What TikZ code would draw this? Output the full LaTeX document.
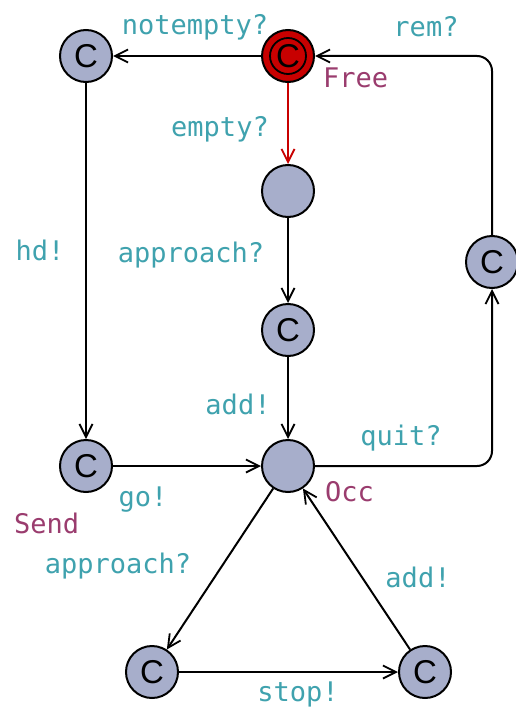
\documentclass[tikz,border=0pt]{standalone}
\usepackage{fontspec}
\setmonofont{DejaVu Sans Mono}
\newfontfamily\letterfont{Liberation Sans}
\usetikzlibrary{arrows.meta}
\definecolor{locfill}{HTML}{A7AECB}
\definecolor{initred}{HTML}{C80000}
\definecolor{synclbl}{HTML}{3FA2AE}
\definecolor{locname}{HTML}{9A3C6E}
\tikzset{
  loc/.style={circle, draw=black, line width=2pt, fill=locfill, minimum size=52pt, inner sep=0pt},
  committed/.style={loc, font=\letterfont\fontsize{33}{33}\selectfont, text=black},
  initloc/.style={loc, fill=initred, font=\letterfont\fontsize{33}{33}\selectfont},
  edge/.style={line width=2pt, -{Straight Barb[length=13pt,width=13pt,line width=1.8pt]}, rounded corners=15pt},
  sync/.style={text=synclbl, font=\ttfamily\fontsize{27}{27}\selectfont, inner sep=0pt},
  lname/.style={text=locname, font=\ttfamily\fontsize{27}{27}\selectfont, inner sep=0pt}
}
\begin{document}
\begin{tikzpicture}[x=1pt,y=-1pt]
\useasboundingbox[fill=white] (0,0) rectangle (516,709);
% locations
\node[initloc] (free) at (288,56) {C};
\draw[line width=1.8pt] (free.center) circle (18pt);
\node[committed] (nt) at (86,56) {C};
\node[loc] (wait) at (288,191) {};
\node[committed] (appr) at (288,330) {C};
\node[loc] (occ) at (288,466) {};
\node[committed] (send) at (86,466) {C};
\node[committed] (rem) at (492,262) {C};
\node[committed] (bl) at (152,672) {C};
\node[committed] (br) at (425,672) {C};
% corner points of the two bent transitions
\coordinate (cornerlow) at (492,466);
\coordinate (cornerhigh) at (492,56);
% location names
\node[lname, anchor=west] at (323,78) {Free};
\node[lname, anchor=west] at (325,492) {Occ};
\node[lname, anchor=west] at (14,523) {Send};
% transitions
\draw[edge] (free) -- (nt);
\draw[edge] (nt) -- (send);
\draw[edge] (send) -- (occ);
\draw[edge, draw=initred] (free) -- (wait);
\draw[edge] (wait) -- (appr);
\draw[edge] (appr) -- (occ);
\draw[edge] (occ.east) -- (cornerlow) -- (rem.south);
\draw[edge] (rem.north) -- (cornerhigh) -- (free.east);
\draw[edge] (occ) -- (bl);
\draw[edge] (bl) -- (br);
\draw[edge] (br) -- (occ);
% synchronisation labels
\node[sync] at (195,27) {notempty?};
\node[sync] at (426,27) {rem?};
\node[sync] at (220,129) {empty?};
\node[sync] at (40,250) {hd!};
\node[sync] at (191,255) {approach?};
\node[sync] at (238,404) {add!};
\node[sync] at (401,438) {quit?};
\node[sync] at (143,500) {go!};
\node[sync] at (118,566) {approach?};
\node[sync] at (418,577) {add!};
\node[sync] at (298,694) {stop!};
\end{tikzpicture}
\end{document}
